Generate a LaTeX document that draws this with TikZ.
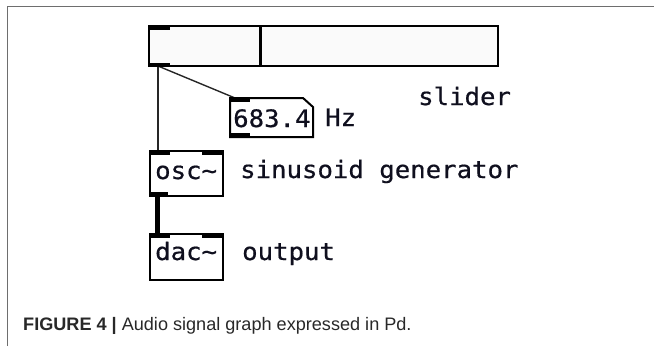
\documentclass[tikz,border=0pt]{standalone}
\usepackage{fontspec}
\setmainfont{Liberation Sans}
\newfontfamily\pdfont[FakeStretch=1.07,FakeBold=0.6]{DejaVu Sans Mono}
\usetikzlibrary{calc}
\definecolor{framegray}{RGB}{110,110,110}
\definecolor{pdink}{RGB}{15,15,30}
\definecolor{captext}{RGB}{40,40,40}
\definecolor{sliderfill}{RGB}{250,250,250}
\begin{document}
\begin{tikzpicture}[x=1pt,y=-1pt,
  pdarea/.style={inner sep=0pt, outer sep=0pt, anchor=north west},
  pdtxt/.style={anchor=base west, inner sep=0pt, text=pdink, font=\pdfont\fontsize{24}{28}\selectfont},
  ctl/.style={draw=black!85, line width=1.4pt},
  sig/.style={draw=black, line width=4.5pt}]
\useasboundingbox (0,0) rectangle (654,346);
\draw[framegray, line width=1.5pt] (7.5,346) -- (7.5,6.5) -- (654,6.5);

% invisible anchors for boxes
\node[pdarea, minimum width=349pt, minimum height=40pt] (slider) at (149,26) {};
\node[pdarea, minimum width=83pt, minimum height=39pt] (numbox) at (230,98) {};
\node[pdarea, minimum width=73pt, minimum height=45pt] (osc) at (150,151) {};
\node[pdarea, minimum width=73pt, minimum height=46pt] (dac) at (150,234) {};

% ports
\coordinate (slout) at ($(slider.south west)+(9,0)$);
\coordinate (nbin) at ($(numbox.north west)+(5,0)$);
\coordinate (oscin) at ($(osc.north west)+(8,0)$);
\coordinate (oscout) at ($(osc.south west)+(7.5,0)$);
\coordinate (dacin) at ($(dac.north west)+(7.5,0)$);

% connectors
\draw[ctl] (slout) -- (nbin);
\draw[ctl] (slout) -- (oscin);
\draw[sig] (oscout) -- (dacin);

% slider
\draw[line width=2pt, fill=sliderfill] (slider.north west) rectangle (slider.south east);
\draw[line width=3.5pt] ($(slider.north west)+(111.5,0)$) -- ($(slider.south west)+(111.5,0)$);
\fill (slider.north west) rectangle ++(21,3.5);
\fill (slider.south west) rectangle ++(21,-3.5);

% number box
\draw[line width=2pt, fill=white] (numbox.south west) -- (numbox.north west) -- ($(numbox.north east)+(-10,0)$) -- ($(numbox.north east)+(0,9)$) -- (numbox.south east) -- cycle;
\fill (numbox.north west) rectangle ++(20,4);
\fill (numbox.south west) rectangle ++(20,-4);

% osc~
\draw[line width=2pt, fill=white] (osc.north west) rectangle (osc.south east);
\fill (osc.north west) rectangle ++(20,4);
\fill ($(osc.north east)+(-21,0)$) rectangle ++(21,4);
\fill (osc.south west) rectangle ++(18,-4);

% dac~
\draw[line width=2pt, fill=white] (dac.north west) rectangle (dac.south east);
\fill (dac.north west) rectangle ++(20,4);
\fill ($(dac.north east)+(-21,0)$) rectangle ++(21,4);

% texts
\node[pdtxt] (tnum) at (233,127) {683.4};
\node[pdtxt] (thz) at (325,126) {Hz};
\node[pdtxt] (tslider) at (418,105) {slider};
\node[pdtxt] (tosc) at (155,179) {osc{\char"7E}};
\node[pdtxt] (tsin) at (240,178) {sinusoid generator};
\node[pdtxt] (tdac) at (155,260) {dac{\char"7E}};
\node[pdtxt] (tout) at (242,260) {output};

% caption
\node[anchor=base west, inner sep=0pt, text=captext, font=\fontsize{18.1}{22}\selectfont] (cap) at (23,330) {\textbf{FIGURE 4 |} Audio signal graph expressed in Pd.};
\end{tikzpicture}
\end{document}
